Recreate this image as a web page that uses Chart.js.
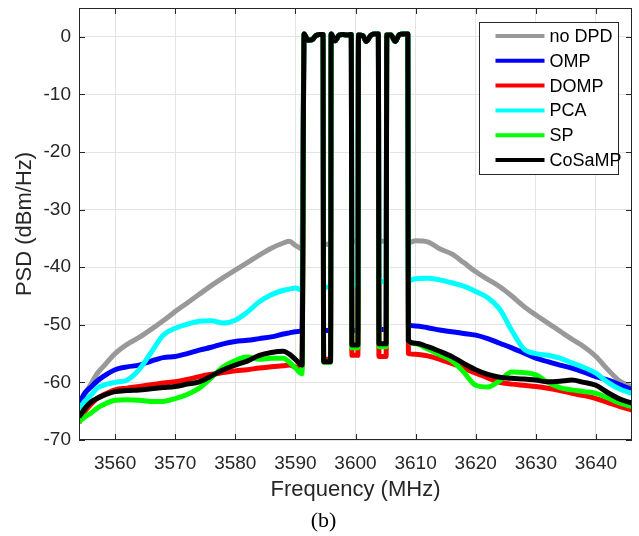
<!DOCTYPE html>
<html>
<head>
<meta charset="utf-8">
<script src="https://cdn.jsdelivr.net/npm/chart.js@4"></script>
<style>
  html, body { margin: 0; padding: 0; background: #fff; }
  canvas { display: block; }
</style>
</head>
<body>
<canvas id="psd" width="639" height="536"></canvas>
<script>
// series in plotting order (later ones end up on top)
const seriesNames = ['no DPD', 'OMP', 'DOMP', 'PCA', 'SP', 'CoSaMP'];
const seriesColors = ['#999999', '#0000ff', '#ff0000', '#00ffff', '#00ff00', '#000000'];

const xTicks = [3560, 3570, 3580, 3590, 3600, 3610, 3620, 3630, 3640];
const yTicks = [-70, -60, -50, -40, -30, -20, -10, 0];

// lower adjacent band (MHz)
const freqLeft = [3554, 3555, 3556, 3557, 3558, 3560, 3562, 3564, 3566, 3568, 3570, 3572,
    3574, 3576, 3578, 3580, 3582, 3584, 3586, 3588, 3589, 3590, 3591.1];
const noDpdLeft = [-63.5, -62, -60.3, -58.5, -57.3, -55, -53.4, -52.2, -50.8, -49.3, -47.7, -46.2,
    -44.7, -43.2, -41.8, -40.5, -39.2, -37.9, -36.7, -35.8, -35.5, -36.2, -36.8];
const ompLeft = [-63.8, -61.8, -60.8, -59.8, -59, -57.8, -57.3, -57, -56.3, -55.7, -55.5, -55,
    -54.4, -53.9, -53.3, -52.9, -52.7, -52.4, -52.1, -51.6, -51.4, -51.2, -51];
const dompLeft = [-67, -65, -63.8, -62.8, -62.2, -61.3, -61, -60.7, -60.4, -60.1, -59.9, -59.5,
    -59, -58.6, -58.3, -58, -57.8, -57.5, -57.3, -57.1, -57, -57.3, -57.5];
const pcaLeft = [-64.6, -63.2, -62.2, -61, -60.5, -60, -59.6, -57.8, -54.8, -51.8, -50.6, -49.9,
    -49.4, -49.3, -49.7, -49.2, -47.8, -46, -44.8, -44, -43.8, -43.6, -44];
const spLeft = [-66.8, -66, -65.3, -64.5, -63.9, -63.1, -63, -63.1, -63.3, -63.3, -62.8, -62.1,
    -61, -59.2, -57.3, -56.2, -55.6, -56, -55.8, -55.8, -56.5, -57.5, -58.5];
const cosampLeft = [-66, -64.5, -63.4, -62.8, -62.3, -61.6, -61.4, -61.3, -61.1, -60.9, -60.7, -60.3,
    -59.9, -58.9, -57.8, -57, -56.3, -55.3, -54.8, -54.6, -55.1, -56, -57];

// the four carriers (shared by all traces)
const carrierFreq = [
    [3591.45, 3592.1, 3592.8, 3593.4, 3594.0, 3594.6],
    [3595.95, 3596.6, 3597.3, 3597.9, 3598.6, 3599.3],
    [3600.5, 3601.2, 3601.8, 3602.5, 3603.1, 3603.8],
    [3605.2, 3605.9, 3606.6, 3607.3, 3608.0, 3608.7],
];
const carrierLevel = [
    [0.5, -0.6, -0.5, 0.2, 0.4, 0.4],
    [0.5, -0.7, 0.3, 0.4, 0.3, 0.4],
    [0.3, 0.2, -0.8, 0.2, 0.5, 0.5],
    [0.3, 0.3, -0.8, 0.4, 0.5, 0.5],
];
const gapFreq = [[3594.7, 3595.85], [3599.4, 3600.4], [3603.9, 3605.1]];

// floor between carriers
const noDpdGap = [-36, -35.5, -35.5];
const ompGap = [-51, -51, -50.8];
const dompGap = [-56, -55.3, -55.5];
const pcaGap = [-43.5, -43, -42.5];
const spGap = [-56.5, -54, -53.8];
const cosampGap = [-56.4, -53.5, -53.3];

// upper adjacent band (MHz)
const freqRight = [3608.8, 3610, 3612, 3614, 3616, 3618, 3620, 3622, 3624, 3626, 3628, 3630,
    3632, 3634, 3636, 3638, 3640, 3642, 3644, 3646];
const noDpdRight = [-35.8, -35.4, -35.6, -36.8, -37.7, -39.2, -40.8, -42.1, -43.4, -45, -46.8, -48.3,
    -49.7, -51.1, -52.5, -53.8, -55.5, -57.8, -59.8, -60.8];
const ompRight = [-50, -50.2, -50.5, -50.9, -51.2, -51.5, -51.8, -52.4, -53.2, -54, -54.9, -55.8,
    -56.4, -57, -57.5, -58.2, -59, -59.6, -60.4, -61.3];
const dompRight = [-55, -55.1, -55.4, -56, -56.7, -57.5, -58.4, -59.2, -60, -60.3, -60.5, -60.7,
    -61, -61.4, -61.9, -62.3, -62.8, -63.5, -64.2, -64.8];
const pcaRight = [-42.3, -42, -41.9, -42.2, -42.7, -43.3, -44.2, -45.3, -47.3, -51, -54.2, -55,
    -55.3, -55.8, -56.6, -57.4, -58.4, -60, -61.2, -61.9];
const spRight = [-52.8, -53.3, -54.2, -55.2, -56.2, -58.2, -60.5, -60.8, -59.7, -58.2, -58.3, -58.7,
    -60, -60.9, -61.3, -61.6, -61.9, -62.7, -63.6, -64.2];
const cosampRight = [-52.8, -53.2, -53.8, -54.6, -55.5, -56.7, -57.8, -58.6, -59.1, -59.3, -59.4, -59.6,
    -59.9, -59.8, -59.6, -60, -60.5, -61.8, -62.9, -63.6];

const leftSets = [noDpdLeft, ompLeft, dompLeft, pcaLeft, spLeft, cosampLeft];
const gapSets = [noDpdGap, ompGap, dompGap, pcaGap, spGap, cosampGap];
const rightSets = [noDpdRight, ompRight, dompRight, pcaRight, spRight, cosampRight];

function buildSeries(left, gaps, right) {
    const pts = freqLeft.map((f, i) => ({ x: f, y: left[i] }));
    carrierFreq.forEach((fs, c) => {
        fs.forEach((f, i) => pts.push({ x: f, y: carrierLevel[c][i] }));
        if (c < gapFreq.length) gapFreq[c].forEach(f => pts.push({ x: f, y: gaps[c] }));
    });
    freqRight.forEach((f, i) => pts.push({ x: f, y: right[i] }));
    return pts;
}

const INK = '#262626';

// box, inward ticks, legend and caption, MATLAB style
const axesDecor = {
    id: 'axesDecor',
    afterDatasetsDraw(chart) {
        const { ctx, chartArea: a, scales: { x, y } } = chart;
        ctx.save();
        ctx.strokeStyle = INK;
        ctx.lineWidth = 1;
        ctx.beginPath();
        xTicks.forEach(v => {
            const px = Math.round(x.getPixelForValue(v)) + 0.5;
            ctx.moveTo(px, a.bottom); ctx.lineTo(px, a.bottom - 6);
            ctx.moveTo(px, a.top); ctx.lineTo(px, a.top + 6);
        });
        yTicks.forEach(v => {
            const py = Math.round(y.getPixelForValue(v)) + 0.5;
            ctx.moveTo(a.left, py); ctx.lineTo(a.left + 6, py);
            ctx.moveTo(a.right, py); ctx.lineTo(a.right - 6, py);
        });
        ctx.stroke();
        ctx.strokeRect(Math.round(a.left) + 0.5, Math.round(a.top) + 0.5,
            Math.round(a.width) - 1, Math.round(a.height) - 1);

        // legend box
        const lx = 479.5, ly = 22.5, lw = 139, lh = 152, row = 24.8;
        ctx.fillStyle = '#fff';
        ctx.fillRect(lx, ly, lw, lh);
        ctx.strokeStyle = INK;
        ctx.strokeRect(lx, ly, lw, lh);
        ctx.font = "18px 'Liberation Sans', Arial, sans-serif";
        ctx.textBaseline = 'middle';
        ctx.textAlign = 'left';
        chart.data.datasets.forEach((ds, i) => {
            const cy = ly + 13.5 + i * row;
            ctx.strokeStyle = ds.borderColor;
            ctx.lineWidth = 4;
            ctx.beginPath();
            ctx.moveTo(lx + 16, cy); ctx.lineTo(lx + 65, cy);
            ctx.stroke();
            ctx.fillStyle = '#000';
            ctx.fillText(ds.label, lx + 70, cy + 1);
        });

        ctx.fillStyle = '#000';
        ctx.font = "22px 'Liberation Serif', 'Times New Roman', serif";
        ctx.textAlign = 'center';
        ctx.fillText('(b)', 323.5, 521);
        ctx.restore();
    },
};

Chart.defaults.font.family = "'Liberation Sans', Arial, Helvetica, sans-serif";
Chart.defaults.color = INK;

new Chart(document.getElementById('psd'), {
    type: 'line',
    data: {
        datasets: seriesNames.map((name, i) => ({
            label: name,
            data: buildSeries(leftSets[i], gapSets[i], rightSets[i]),
            borderColor: seriesColors[i],
            backgroundColor: seriesColors[i],
            borderWidth: 5,
            borderJoinStyle: 'round',
            pointRadius: 0,
            cubicInterpolationMode: 'monotone',
            fill: false,
            clip: 0,
            order: seriesNames.length - i,
        })),
    },
    options: {
        responsive: false,
        animation: false,
        events: [],
        layout: { padding: { top: 8, right: 7, left: 0, bottom: 0 } },
        scales: {
            x: {
                type: 'linear',
                min: 3554, max: 3646,
                afterBuildTicks: s => { s.ticks = xTicks.map(v => ({ value: v })); },
                afterFit: s => { s.height = 96; s.paddingLeft = 0; s.paddingRight = 0; },
                grid: { color: '#e4e4e4', drawTicks: false },
                border: { display: false },
                ticks: {
                    font: { size: 19 }, padding: 12, maxRotation: 0, color: INK,
                    callback: v => String(v),
                },
                title: {
                    display: true, text: 'Frequency (MHz)', color: INK,
                    font: { size: 22 }, padding: { top: 0, bottom: 33 },
                },
            },
            y: {
                min: -70, max: 5,
                afterBuildTicks: s => { s.ticks = yTicks.map(v => ({ value: v })); },
                afterFit: s => { s.width = 79; s.paddingTop = 0; s.paddingBottom = 0; },
                grid: { color: '#e4e4e4', drawTicks: false },
                border: { display: false },
                ticks: { font: { size: 19 }, padding: 8, color: INK, callback: v => String(v) },
                title: {
                    display: true, text: 'PSD (dBm/Hz)', color: INK,
                    font: { size: 22 }, padding: { top: 12, bottom: 0 },
                },
            },
        },
        plugins: {
            legend: { display: false },
            tooltip: { enabled: false },
        },
    },
    plugins: [axesDecor],
});
</script>
</body>
</html>
